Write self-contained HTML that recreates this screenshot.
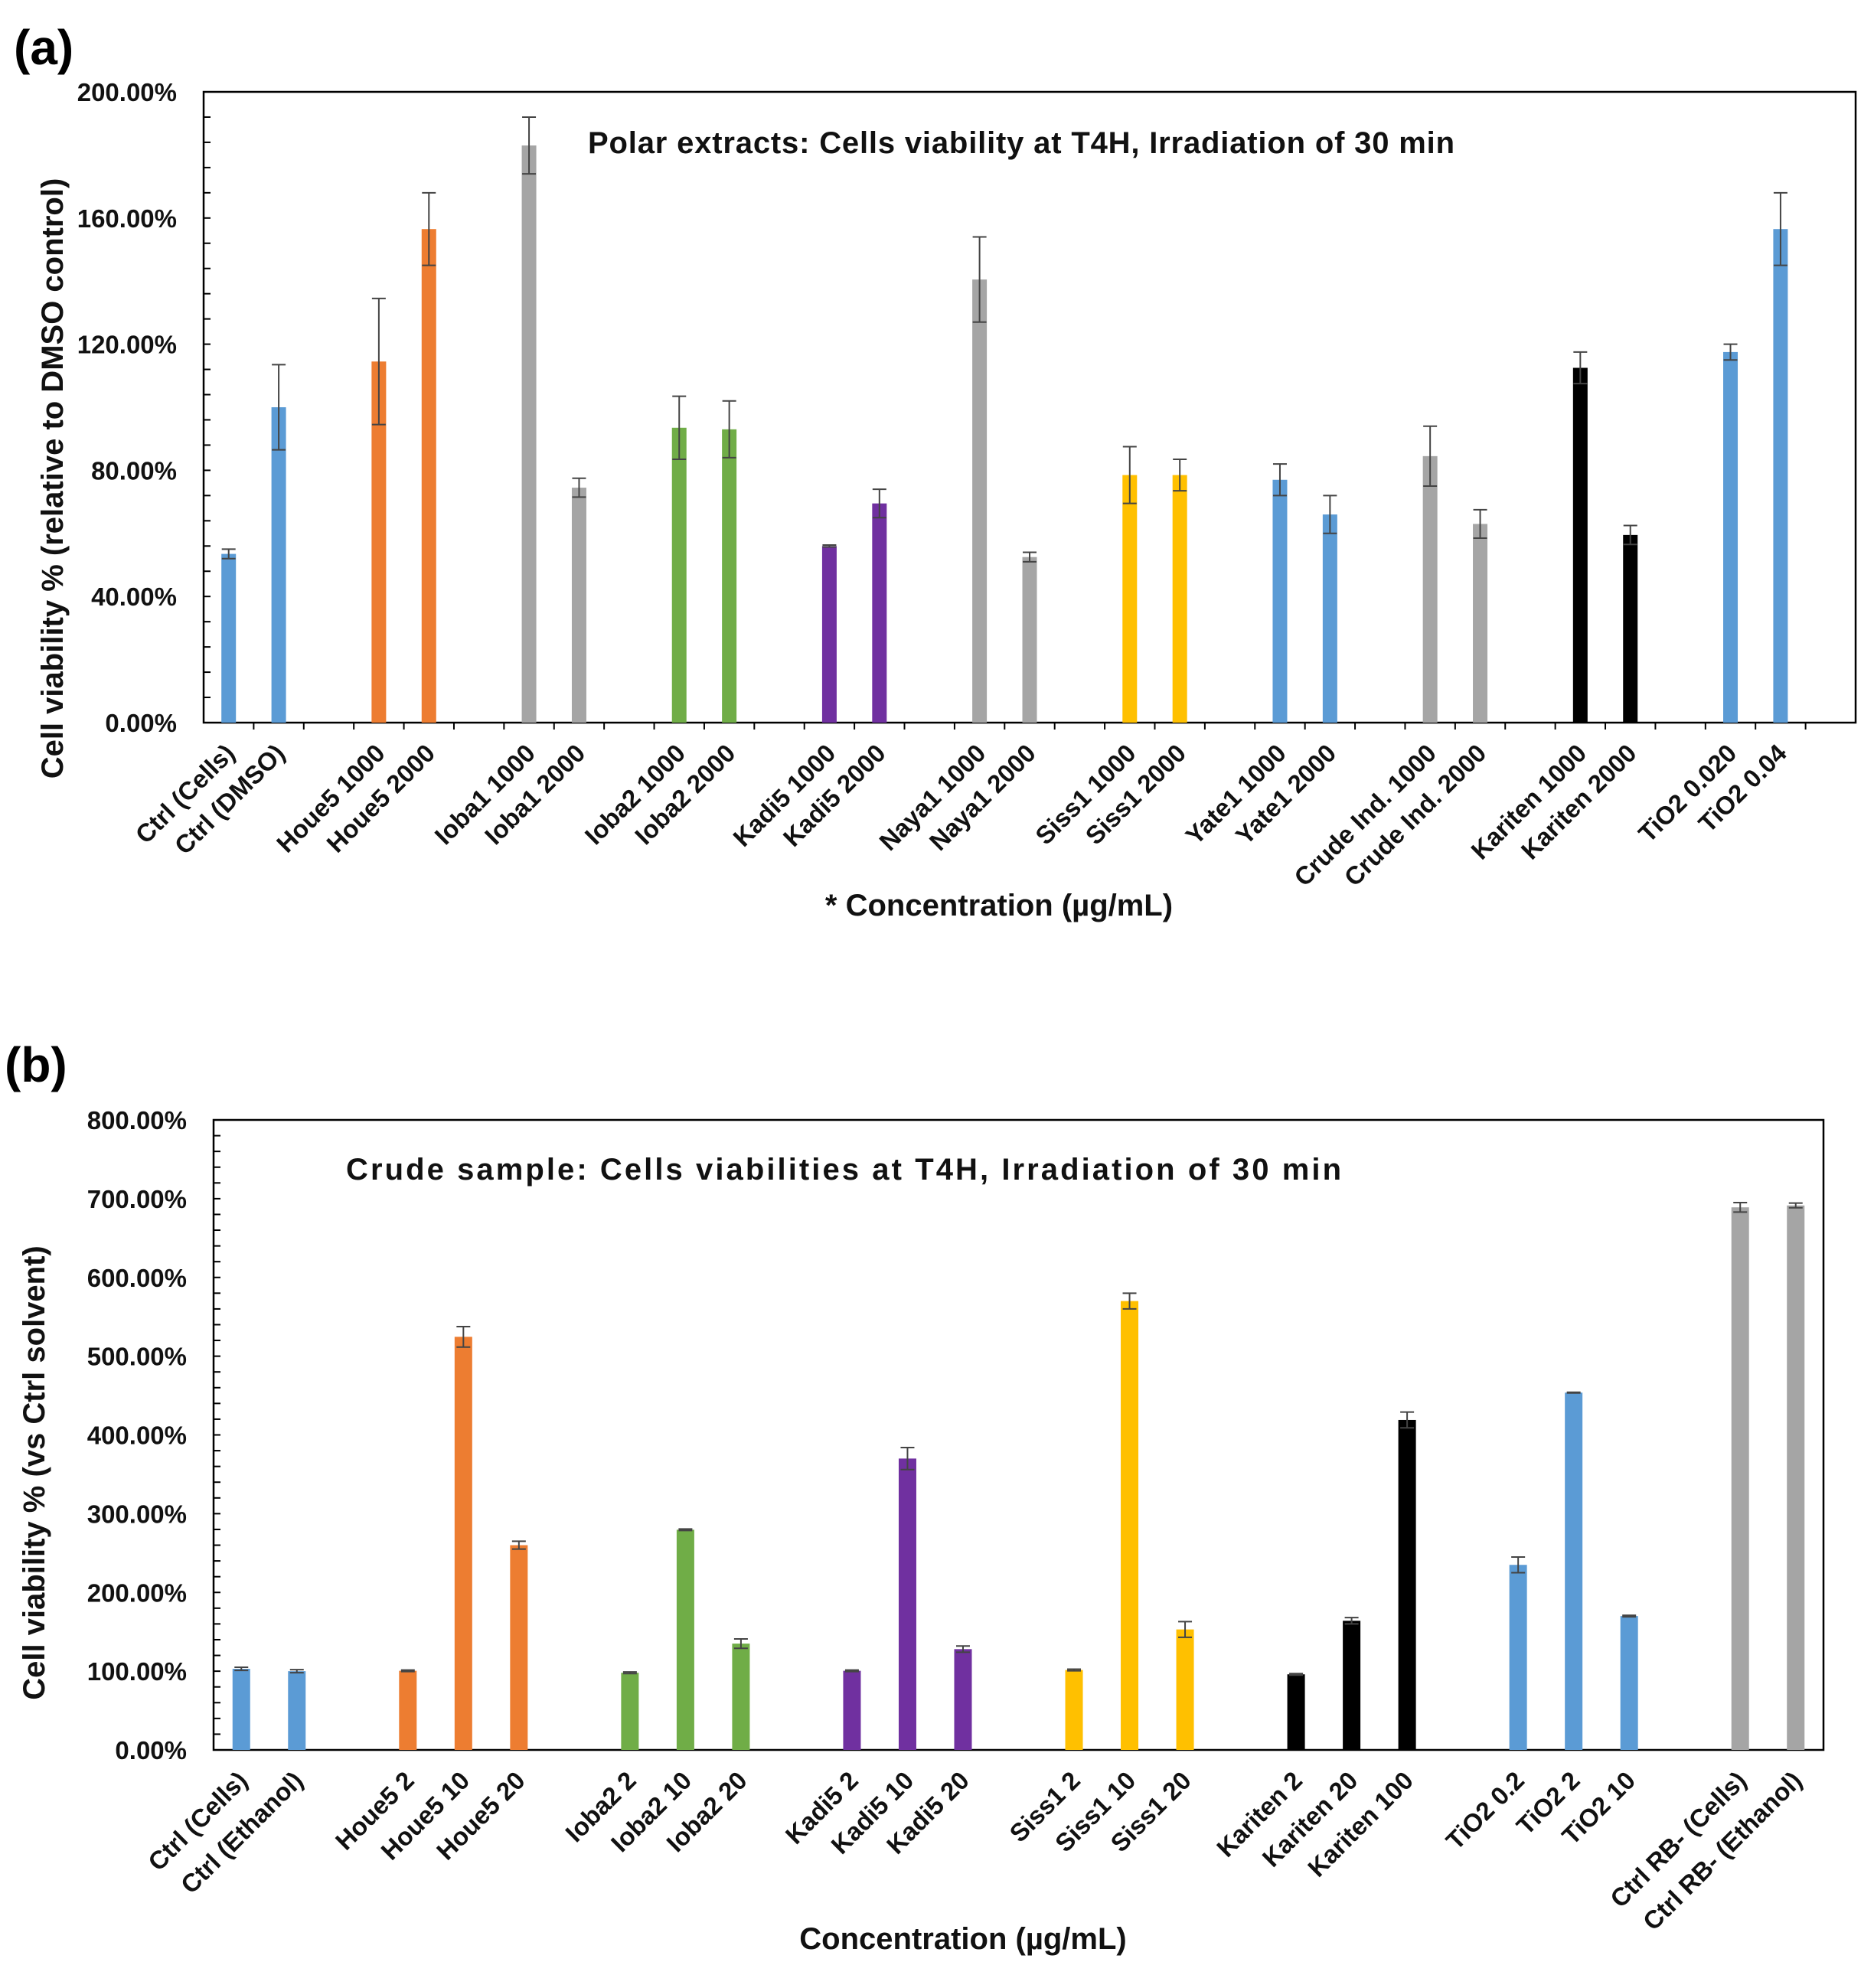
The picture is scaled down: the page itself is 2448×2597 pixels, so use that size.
<!DOCTYPE html>
<html><head><meta charset="utf-8"><style>
html,body{margin:0;padding:0;background:#fff;}
svg{display:block;font-family:"Liberation Sans",Arial,sans-serif;font-weight:bold;}
</style></head><body>
<svg id="fig" width="2448" height="2597" viewBox="0 0 2448 2597" xmlns="http://www.w3.org/2000/svg"></svg>
<script>
// Panel (a) data
const catsA = ["Ctrl (Cells)","Ctrl (DMSO)","","Houe5 1000","Houe5 2000","","Ioba1 1000","Ioba1 2000","","Ioba2 1000","Ioba2 2000","","Kadi5 1000","Kadi5 2000","","Naya1 1000","Naya1 2000","","Siss1 1000","Siss1 2000","","Yate1 1000","Yate1 2000","","Crude Ind. 1000","Crude Ind. 2000","","Kariten 1000","Kariten 2000","","TiO2 0.020","TiO2 0.04",""];
const valsA = [53.5,100,null,114.5,156.5,null,183,74.5,null,93.5,93,null,56,69.5,null,140.5,52.5,null,78.5,78.5,null,77,66,null,84.5,63,null,112.5,59.5,null,117.5,156.5,null];
const errsA = [1.5,13.5,0,20,11.5,0,9,3,0,10,9,0,0.3,4.5,0,13.5,1.5,0,9,5,0,5,6,0,9.5,4.5,0,5,3,0,2.5,11.5,0];
const colsA = ["b","b","","o","o","","g","g","","gr","gr","","p","p","","g","g","","y","y","","b","b","","g","g","","k","k","","b","b",""];
const ticksA = ["0.00%","40.00%","80.00%","120.00%","160.00%","200.00%"];
// Panel (b) data
const catsB = ["Ctrl (Cells)","Ctrl (Ethanol)","","Houe5 2","Houe5 10","Houe5 20","","Ioba2 2","Ioba2 10","Ioba2 20","","Kadi5 2","Kadi5 10","Kadi5 20","","Siss1 2","Siss1 10","Siss1 20","","Kariten 2","Kariten 20","Kariten 100","","TiO2 0.2","TiO2 2","TiO2 10","","Ctrl RB- (Cells)","Ctrl  RB- (Ethanol)"];
const valsB = [103,100,null,100.5,524.6,260,null,98,279.6,135,null,100.5,370,128,null,101.5,570,153,null,96,164,419,null,235,453.7,170,null,689,691.4];
const errsB = [2,2,0,1,13,5,0,1,1,6,0,1,14,4,0,1,10,10,0,1,4,10,0,10,0.5,1,0,6,3];
const colsB = ["b","b","","o","o","o","","gr","gr","gr","","p","p","p","","y","y","y","","k","k","k","","b","b","b","","g","g"];
const ticksB = ["0.00%","100.00%","200.00%","300.00%","400.00%","500.00%","600.00%","700.00%","800.00%"];

const PAL = {b:"#5B9BD5",o:"#ED7D31",g:"#A5A5A5",gr:"#70AD47",p:"#7030A0",y:"#FFC000",k:"#000000"};
const NS = "http://www.w3.org/2000/svg";
const svg = document.getElementById('fig');
function mk(tag, attrs, parent, text){
  const e = document.createElementNS(NS, tag);
  for (const k in attrs) e.setAttribute(k, attrs[k]);
  if (text !== undefined) e.textContent = text;
  (parent||svg).appendChild(e);
  return e;
}

function panel(cfg){
  const g = mk('g', {});
  
  
  const {L,R,T,B,max,cats,vals,errs,cols,ticks,bw,minor,xticks} = cfg;
  const n = cats.length, slot = (R-L)/n;
  const y = v => B - v/max*(B-T);
  const x = i => L + (i+0.5)*slot;
  const fr = mk('rect', {x:L,y:T,width:R-L,height:B-T,fill:'none',stroke:'#000','stroke-width':2.5}, g);
  
  
  const step = max/(ticks.length-1);
  for (let v=0; v<=max+0.001; v+=minor){
    mk('line',{x1:L,x2:L+9,y1:y(v),y2:y(v),stroke:'#000','stroke-width':2},g);
  }
  ticks.forEach((t,i)=>{
    const tl = mk('text',{x:L-35,y:y(i*step)+12,'text-anchor':'end','font-size':33,fill:'#111'},g,t);
    
    
  });
  if (xticks){
    for (let i=1;i<n;i++){
      mk('line',{x1:L+i*slot,x2:L+i*slot,y1:B,y2:B+9,stroke:'#000','stroke-width':2},g);
    }
  }
  cats.forEach((c,i)=>{
    if (vals[i]!==null){
      const bar = mk('rect',{x:x(i)-bw/2,y:y(vals[i]),width:bw,height:B-y(vals[i]),fill:PAL[cols[i]]},g);
      
      
      const e = errs[i], y1 = y(vals[i]+e), y2 = y(vals[i]-e);
      const eb = mk('path',{d:`M${x(i)},${y1}V${y2}M${x(i)-9},${y1}H${x(i)+9}M${x(i)-9},${y2}H${x(i)+9}`,stroke:'#444','stroke-width':2,fill:'none'},g);
      
      
    }
    if (c){
      const ax = x(i)+10, ay = B+cfg.lblOff;
      const t = mk('text',{x:ax,y:ay,'text-anchor':'end','font-size':33,fill:'#111',transform:`rotate(-45 ${ax} ${ay})`},g,c);
      
      
    }
  });
}

panel({id:'a',L:266,R:2424,T:120,B:944,max:200,cats:catsA,vals:valsA,errs:errsA,cols:colsA,ticks:ticksA,bw:19,minor:8,xticks:true,lblOff:42});
panel({id:'b',L:279,R:2382,T:1463,B:2286,max:800,cats:catsB,vals:valsB,errs:errsB,cols:colsB,ticks:ticksB,bw:23,minor:20,xticks:false,lblOff:42});

function label(txt, attrs, name){
  const t = mk('text', attrs, svg, txt);
  
  
}
label('(a)',{x:18,y:84,'font-size':64,fill:'#000'},'panel-a-label');
label('Polar extracts:  Cells viability  at  T4H, Irradiation  of 30 min',{x:768,y:200,'font-size':40,fill:'#111',textLength:1132},'chart-a-title');
label('Cell viability  % (relative to DMSO control)',{x:0,y:0,'font-size':40,fill:'#111','text-anchor':'middle',transform:'translate(82 625) rotate(-90)'},'y-axis-title-a');
label('* Concentration (µg/mL)',{x:1305,y:1196,'font-size':40,fill:'#111','text-anchor':'middle'},'x-axis-title-a');
label('(b)',{x:6,y:1413,'font-size':64,fill:'#000'},'panel-b-label');
label('Crude sample:  Cells viabilities  at  T4H, Irradiation  of  30 min',{x:452,y:1541,'font-size':40,fill:'#111',textLength:1300},'chart-b-title');
label('Cell viability  % (vs Ctrl solvent)',{x:0,y:0,'font-size':40,fill:'#111','text-anchor':'middle',transform:'translate(58 1924) rotate(-90)'},'y-axis-title-b');
label('Concentration (µg/mL)',{x:1258,y:2546,'font-size':40,fill:'#111','text-anchor':'middle'},'x-axis-title-b');
</script>
</body></html>
